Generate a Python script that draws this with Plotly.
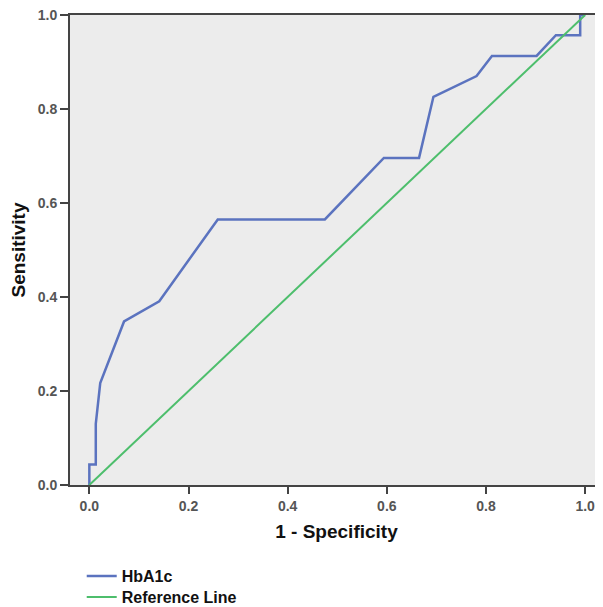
import plotly.graph_objects as go

# ROC curve for HbA1c (1 - specificity, sensitivity)
fpr = [0.0, 0.0, 0.013, 0.013, 0.022, 0.070, 0.141, 0.259, 0.475, 0.594, 0.665, 0.694,
       0.781, 0.812, 0.902, 0.941, 0.990, 0.990, 1.0]
tpr = [0.0, 0.0435, 0.0435, 0.130, 0.217, 0.348, 0.391, 0.565, 0.565, 0.696, 0.696, 0.826,
       0.870, 0.913, 0.913, 0.957, 0.957, 1.0, 1.0]
ref_x = [0.0, 1.0]
ref_y = [0.0, 1.0]
tick_vals = [0.0, 0.2, 0.4, 0.6, 0.8, 1.0]
tick_text = ["<b>0.0</b>", "<b>0.2</b>", "<b>0.4</b>", "<b>0.6</b>", "<b>0.8</b>", "<b>1.0</b>"]

FONT = "Liberation Sans, Arial, sans-serif"

fig = go.Figure()
fig.add_trace(go.Scatter(x=fpr, y=tpr, mode="lines", name="<b>HbA1c</b>",
                         line=dict(color="#5B73BF", width=2.5), legend="legend"))
fig.add_trace(go.Scatter(x=ref_x, y=ref_y, mode="lines", name="<b>Reference Line</b>",
                         line=dict(color="#4DBE6C", width=2), legend="legend2"))

axis_font = dict(family=FONT, size=14, color="#555555")
leg_font = dict(family=FONT, size=16, color="#111111")
fig.update_layout(
    width=603, height=607,
    margin=dict(l=62, r=8, t=7, b=130, autoexpand=False),
    paper_bgcolor="white",
    plot_bgcolor="#ECECEC",
    showlegend=True,
    legend=dict(x=0.022, y=-0.1936, xanchor="left", yanchor="middle",
                font=leg_font, bgcolor="rgba(0,0,0,0)"),
    legend2=dict(x=0.022, y=-0.2383, xanchor="left", yanchor="middle",
                 font=leg_font, bgcolor="rgba(0,0,0,0)"),
    xaxis=dict(range=[-0.039, 1.036], tickvals=tick_vals, ticktext=tick_text, automargin=False,
               showgrid=False, zeroline=False, showline=True, linecolor="#444444", linewidth=2,
               mirror=True, ticks="outside", ticklen=7, tickwidth=2, tickcolor="#444444",
               tickfont=axis_font, ticklabeloverflow="allow",
               title=dict(text="<b>1 - Specificity</b>", standoff=12,
                          font=dict(family=FONT, size=19, color="#111111"))),
    yaxis=dict(range=[0, 1], tickvals=tick_vals, ticktext=tick_text, automargin=False,
               showgrid=False, zeroline=False, showline=True, linecolor="#444444", linewidth=2,
               ticks="outside", ticklen=8, tickwidth=2, tickcolor="#444444",
               tickfont=axis_font, ticklabeloverflow="allow",
               title=dict(text="<b>Sensitivity</b>", standoff=17,
                          font=dict(family=FONT, size=19, color="#111111"))),
)
fig.write_html("out.html")
